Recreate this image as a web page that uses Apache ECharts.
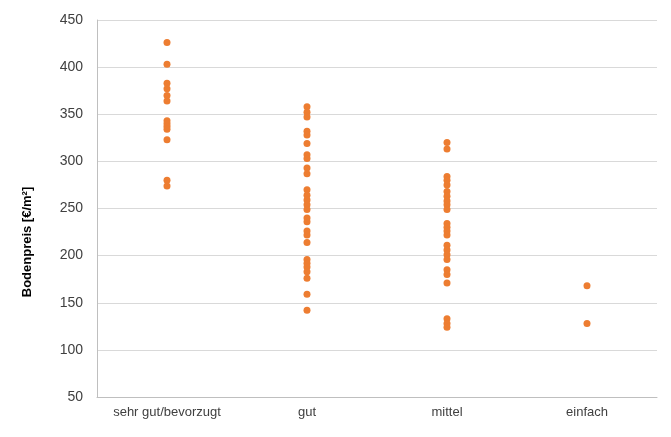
<!DOCTYPE html>
<html><head><meta charset="utf-8">
<script src="https://cdn.jsdelivr.net/npm/echarts@6/dist/echarts.min.js"></script>
<style>html,body{margin:0;padding:0;background:#fff}#c{width:671px;height:437px}</style>
</head><body><div id="c"></div>
<script>
const categories = ["sehr gut/bevorzugt", "gut", "mittel", "einfach"];
const sehrGut = [426, 403, 383, 377, 370, 364, 343, 340, 337, 334, 323, 280, 274];
const gut = [358, 352, 347, 332, 328, 319, 307, 303, 293, 287, 270, 264, 259, 254, 249, 240, 236, 226, 222, 214, 196, 192, 188, 183, 176, 159, 142];
const mittel = [320, 313, 284, 280, 275, 268, 263, 258, 254, 249, 234, 230, 226, 222, 211, 206, 201, 196, 185, 180, 171, 133, 128, 124];
const einfach = [168, 128];
const yTicks = {min: 50, max: 450, interval: 50};
const yTitle = 'Bodenpreis [€/m²]';

const groups = [sehrGut, gut, mittel, einfach];
const data = [];
groups.forEach((g, i) => g.forEach(v => data.push([categories[i], v])));

const chart = echarts.init(document.getElementById('c'));
chart.setOption({
  animation: false,
  grid: {left: 97, right: 14, top: 20, bottom: 40},
  graphic: [{
    type: 'text', x: 27, y: 242, rotation: Math.PI / 2,
    style: {text: yTitle, fill: '#000', font: 'bold 13px "Liberation Sans"', align: 'center', verticalAlign: 'middle'}
  }],
  xAxis: {
    type: 'category', data: categories, boundaryGap: true,
    axisLine: {lineStyle: {color: '#bfbfbf'}},
    axisTick: {show: false},
    axisLabel: {color: '#404040', fontSize: 13, fontFamily: 'Liberation Sans', margin: 9}
  },
  yAxis: {
    type: 'value', min: yTicks.min, max: yTicks.max, interval: yTicks.interval,
    axisLine: {show: true, lineStyle: {color: '#bfbfbf'}},
    axisTick: {show: false},
    axisLabel: {color: '#404040', fontSize: 14, fontFamily: 'Liberation Sans', margin: 14},
    splitLine: {lineStyle: {color: '#d9d9d9'}}
  },
  series: [{
    type: 'scatter', data: data, symbolSize: 7,
    itemStyle: {color: '#ED7D31', opacity: 1}
  }]
});
</script></body></html>
